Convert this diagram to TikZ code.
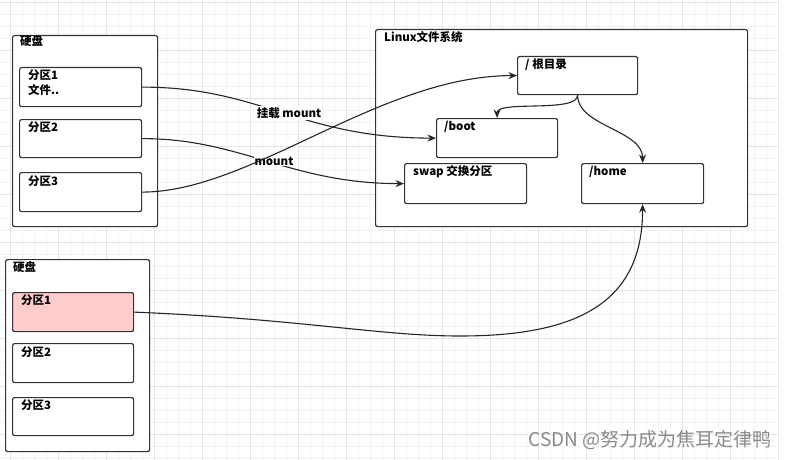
\documentclass[tikz,border=0pt]{standalone}
\usepackage{fontspec}
\setmainfont{Noto Sans CJK SC}
\usetikzlibrary{arrows.meta}
\definecolor{gridmaj}{HTML}{E4E4E4}
\definecolor{gridmin}{HTML}{F3F3F3}
\definecolor{pinkfill}{HTML}{FFCCCC}
\definecolor{wmgray}{HTML}{8A8A8A}
\begin{document}
\begin{tikzpicture}[x=1pt,y=-1pt,
  box/.style={draw=black!80, line width=1.2pt, rounded corners=2pt, fill=white, inner sep=0pt, anchor=north west},
  txt/.style={font=\bfseries\fontsize{11.5}{13}\selectfont, anchor=base west, inner sep=0pt},
  conn/.style={line width=1.1pt, draw=black!85},
  arr/.style={conn, -{Stealth[length=8.5pt,width=7pt]}},
  lbl/.style={font=\bfseries\fontsize{11.5}{13}\selectfont, anchor=center, fill=white, inner sep=1pt}]
\useasboundingbox (0,0) rectangle (792,460);
\fill[white] (0,0) rectangle (792,460);
% grid
\foreach \x in {10,22,...,778} \draw[gridmin, line width=0.5pt] (\x,0) -- (\x,460);
\foreach \y in {2,14,...,458} \draw[gridmin, line width=0.5pt] (0,\y) -- (778,\y);
\foreach \x in {10,58,...,778} \draw[gridmaj, line width=0.7pt] (\x,0) -- (\x,460);
\foreach \y in {2,50,...,458} \draw[gridmaj, line width=0.7pt] (0,\y) -- (778,\y);

% top disk
\node[box, minimum width=145pt, minimum height=191pt] (disk1) at (12,35) {};
\node[txt] (disk1t) at (20,46) {硬盘};
\node[box, minimum width=122pt, minimum height=39pt] (p1a) at (19,67) {};
\node[txt] (p1at) at (28,79) {分区1};
\node[txt] (p1af) at (28,94) {文件..};
\node[box, minimum width=122pt, minimum height=38pt] (p2a) at (19,119) {};
\node[txt] (p2at) at (28,131) {分区2};
\node[box, minimum width=122pt, minimum height=39pt] (p3a) at (19,172) {};
\node[txt] (p3at) at (28,185) {分区3};

% linux fs
\node[box, minimum width=372pt, minimum height=197pt] (linux) at (375,29) {};
\node[txt] (linuxt) at (384,42) {Linux文件系统};
\node[box, minimum width=120pt, minimum height=38pt] (root) at (517,56) {};
\node[txt] (roott) at (525,68) {/ 根目录};
\node[box, minimum width=121pt, minimum height=39pt] (boot) at (436,118) {};
\node[txt] (boott) at (444,130) {/boot};
\node[box, minimum width=122pt, minimum height=40pt] (swap) at (404,163) {};
\node[txt] (swapt) at (413,175) {swap 交换分区};
\node[box, minimum width=122pt, minimum height=40pt] (home) at (581,163) {};
\node[txt] (homet) at (589,175) {/home};

% bottom disk
\node[box, minimum width=144pt, minimum height=192pt] (disk2) at (5,259) {};
\node[txt] (disk2t) at (13,271) {硬盘};
\node[box, fill=pinkfill, minimum width=121pt, minimum height=39pt] (q1) at (12,292) {};
\node[txt] (q1t) at (21,304) {分区1};
\node[box, minimum width=121pt, minimum height=39pt] (q2) at (12,343) {};
\node[txt] (q2t) at (21,356) {分区2};
\node[box, minimum width=121pt, minimum height=38pt] (q3) at (12,397) {};
\node[txt] (q3t) at (21,409) {分区3};

% connectors
\draw[arr] (p1a.east) .. controls +(119,0) and +(-136,0) .. (boot.west);
\draw[arr] (p2a.east) .. controls +(99,0) and +(-114,0) .. (swap.west);
\node[lbl] (m1) at (289,113) {挂载 mount};
\node[lbl] (m2) at (274,161) {mount};
\draw[arr] (p3a.east) .. controls +(109,0) and +(-137,0) .. (root.west);
\draw[arr] (root.south) .. controls +(0,18) and +(0,-18) .. (boot.north);
\draw[arr] (root.south) .. controls +(0,31) and +(0,-33) .. (home.north);
\coordinate (bend) at (460,336);
\draw[arr] (q1.east) .. controls +(167,7) and +(-80,0) .. (bend)
  .. controls +(120,0) and +(0,97) .. (home.south);

% watermark
\node[text=wmgray, font=\fontsize{19}{22}\selectfont, inner sep=0pt] (wm) at (650,440) {CSDN @努力成为焦耳定律鸭};
\end{tikzpicture}
\end{document}
